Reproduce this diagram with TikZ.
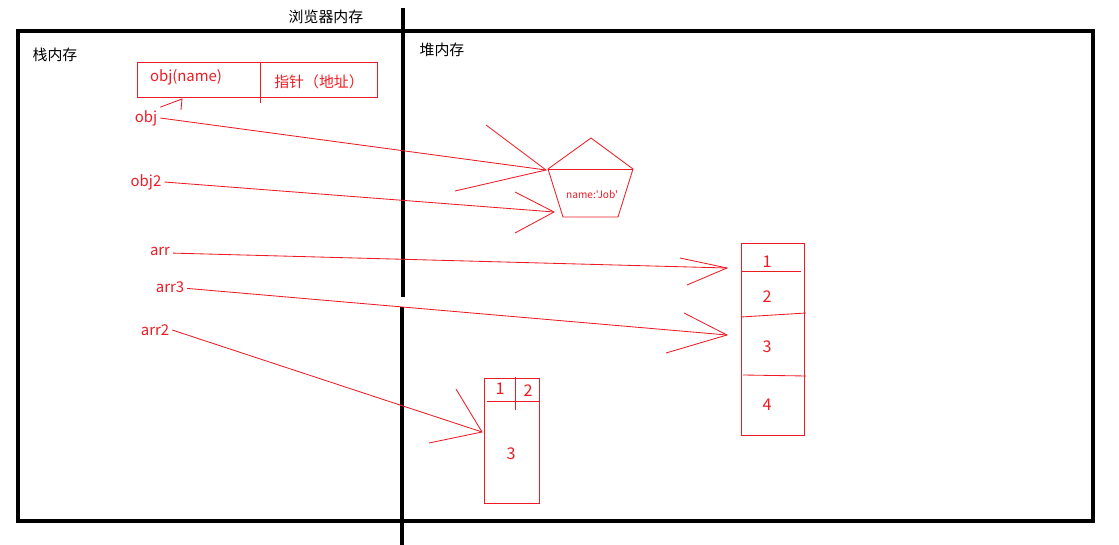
\documentclass[tikz,border=0pt]{standalone}
\usepackage{fontspec}
\setmainfont{Noto Sans CJK SC}
\newfontfamily\schlicht{Noto Sans CJK SC}
\usetikzlibrary{positioning}
\definecolor{rot}{RGB}{237,28,36}

\begin{document}
\begin{tikzpicture}[
x=0.025cm, y=-0.025cm,
font=\fontsize{10.6}{12}\selectfont,
rand/.style={line width=3.4pt, black},
strich/.style={rot, line width=0.6pt},
lbl/.style={text=rot, inner sep=2pt},
zahl/.style={text=rot, font=\fontsize{11.5}{13}\selectfont, inner sep=0pt}
]
\useasboundingbox (0,0) rectangle (1119,545);

% Rahmen
\draw[rand] (18,31) rectangle (1093,521);
\draw[rand] (403,8) -- (403,297);
\draw[rand] (402,307) -- (402,545);

% Titel
\node (browser) at (326,17) {浏览器内存};
\node (stack) at (55,55) {栈内存};
\node (heap) at (442,50) {堆内存};

% Tabelle obj(name)
\draw[strich] (137,62) rectangle (377,97);
\draw[strich] (260,62) -- (260,103);
\node[lbl] (objname) at (186,77) {obj(name)};
\node[lbl] (zeiger) at (319,82) {指针（地址）};

% Variablen im Stack
\node[lbl] (obj) at (146,118) {obj};
\node[lbl] (objzwei) at (146,182) {obj2};
\node[lbl] (arr) at (160,251) {arr};
\node[lbl] (arrdrei) at (170,287) {arr3};
\node[lbl] (arrzwei) at (155,330) {arr2};

% Objekt im Heap
\coordinate (pa) at (591,138);
\coordinate (pb) at (633,169);
\coordinate (pc) at (618,217);
\coordinate (pd) at (563,217);
\coordinate (pe) at (548,169);
\draw[strich] (pa) -- (pb) -- (pc) -- (pd) -- (pe) -- cycle;
\draw[strich] (pe) -- (pb);
\node[text=rot, font=\schlicht\fontsize{7.2}{8}\selectfont, inner sep=0pt] (job) at (592,195) {name:'Job'};

% Array [1,2,3,4]
\draw[strich] (741,243) rectangle (804,435);
\draw[strich] (741,271) -- (801,271);
\draw[strich] (741,317) -- (806,313);
\draw[strich] (743,375) -- (806,376);
\foreach \z/\y in {1/262,2/297,3/347,4/405}
  \node[zahl] (feld\z) at (767,\y) {\z};

% Array [[1,2],3]
\draw[strich] (484,378) rectangle (539,503);
\draw[strich] (487,401) -- (539,401);
\draw[strich] (515,377) -- (515,410);
\node[zahl] (kleinA) at (500,389) {1};
\node[zahl] (kleinB) at (528,391) {2};
\node[zahl] (kleinC) at (511,454) {3};

% Pfeile
\coordinate (objbox) at (182,99);
\draw[strich] (obj.north east) -- (objbox) -- (181,110);

\coordinate (objziel) at (546,170);
\draw[strich] (obj.east) -- (objziel);
\draw[strich] (486,125) -- (objziel) -- (455,191);

\coordinate (objzweiziel) at (554,212);
\draw[strich] (objzwei.east) -- (objzweiziel);
\draw[strich] (515,192) -- (objzweiziel) -- (515,233);

\coordinate (arrziel) at (727,268);
\draw[strich] ([yshift=-1.5pt]arr.east) -- (arrziel);
\draw[strich] (680,258) -- (arrziel) -- (687,285);

\coordinate (arrdreiziel) at (727,335);
\draw[strich] ([yshift=-1pt]arrdrei.east) -- (arrdreiziel);
\draw[strich] (684,313) -- (arrdreiziel) -- (666,353);

\coordinate (arrzweiziel) at (482,432);
\draw[strich] (arrzwei.east) -- (arrzweiziel);
\draw[strich] (456,389) -- (arrzweiziel) -- (429,443);
\end{tikzpicture}
\end{document}
